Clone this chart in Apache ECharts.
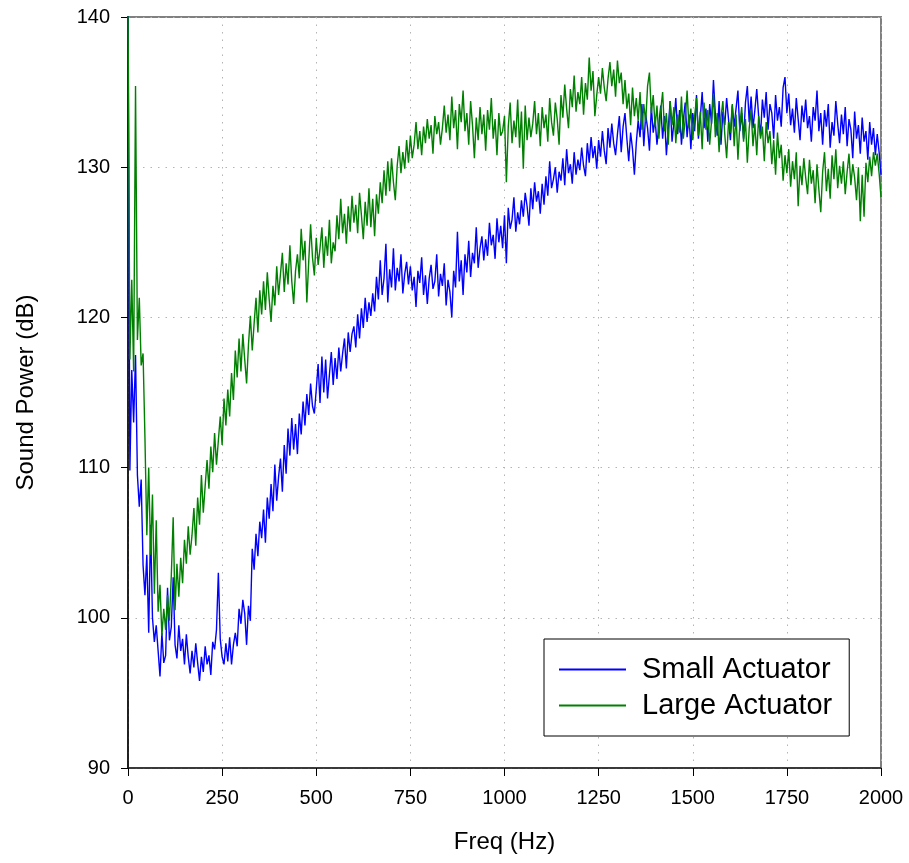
<!DOCTYPE html>
<html>
<head>
<meta charset="utf-8">
<script src="https://cdn.jsdelivr.net/npm/echarts@6/dist/echarts.min.js"></script>
<style>html,body{margin:0;padding:0;background:#fff;}#c{width:909px;height:863px;}</style>
</head>
<body>
<div id="c"></div>
<script>
// Frequency sampling (Hz): start and step of the sampled spectra
const FREQ_START = 0;
const FREQ_STEP = 5;
const X_TICKS = [0, 250, 500, 750, 1000, 1250, 1500, 1750, 2000];
const Y_TICKS = [90, 100, 110, 120, 130, 140];
const seriesNames = ["Small Actuator", "Large Actuator"];

// Sound power (dB), one row per 50 Hz
const smallActuator = [
141,109.8,116.5,113.0,117.5,109.5,107.4,109.2,103.5,101.5,
104.2,99.0,106.2,100.0,98.4,99.5,97.8,96.1,99.0,97.0,
97.5,102.0,98.5,99.4,102.7,98.2,97.3,99.5,97.8,98.6,
96.9,98.9,97.4,96.3,97.8,96.7,98.3,97.0,95.8,97.4,
96.4,98.1,96.9,97.5,96.2,98.4,97.9,99.2,103.0,98.6,
97.4,96.9,98.3,97.1,98.7,96.9,98.2,99.0,98.1,100.6,
99.6,101.2,100.3,98.2,100.8,99.8,104.6,103.2,105.6,104.1,
106.4,105.3,107.2,105.0,108.0,106.6,108.9,107.1,110.2,107.8,
109.4,110.6,108.4,111.5,109.6,112.6,110.8,113.3,111.2,112.9,
110.9,113.6,112.2,114.4,112.8,114.9,113.5,115.6,114.1,113.6,
115.2,116.9,114.3,117.4,115.0,117.2,114.6,116.2,117.7,115.5,
117.3,115.9,118.0,116.4,117.6,118.6,116.6,119.0,117.7,118.9,
119.4,118.0,120.2,118.6,120.6,119.3,121.3,119.7,121.0,120.1,
121.6,120.4,122.7,121.2,123.8,121.5,122.6,124.9,121.0,123.2,
122.0,124.6,121.8,123.3,122.4,124.2,121.6,122.9,123.7,122.2,
123.4,121.8,122.7,120.7,123.1,122.3,124.0,121.5,122.8,120.9,
122.6,123.5,121.9,122.4,124.2,121.4,122.9,122.1,123.6,120.8,
122.5,121.7,120.0,123.1,122.0,125.7,122.4,123.8,121.5,124.2,
123.0,125.1,122.7,124.3,123.6,126.0,123.3,124.6,125.4,123.8,
125.2,124.1,126.3,124.8,125.5,123.9,126.6,125.0,126.1,124.6,
126.8,123.6,127.3,125.9,126.5,128.0,125.7,127.0,126.2,127.8,
126.7,128.3,127.4,126.1,128.6,127.2,129.0,127.7,128.4,126.9,
128.9,127.5,129.4,128.1,130.4,128.6,129.2,130.0,128.3,129.7,
129.1,130.6,128.8,131.2,129.6,130.2,128.9,131.0,129.5,130.5,
129.8,131.3,130.1,129.4,131.6,130.3,132.0,130.6,131.4,129.9,
131.8,130.7,132.4,131.1,130.2,132.6,131.3,132.9,131.6,130.8,
132.2,133.4,131.0,132.7,133.6,131.9,130.4,132.3,131.2,129.5,
131.6,133.1,132.0,134.2,131.4,133.5,132.6,131.1,134.0,132.3,
133.2,131.5,132.8,134.1,131.9,133.4,130.8,132.6,134.4,131.7,
133.0,134.6,132.2,133.8,131.5,133.1,134.3,132.0,133.5,131.2,
133.6,132.4,134.8,131.9,133.3,135.0,132.6,133.9,131.7,134.2,
132.9,135.8,133.5,132.1,134.4,131.5,133.7,132.8,134.6,133.2,
131.8,134.1,132.7,133.9,135.1,132.4,133.6,131.9,134.3,135.4,
133.0,134.7,132.6,133.8,135.2,133.4,132.1,134.5,133.3,135.0,
132.5,134.2,133.6,131.9,134.8,133.1,134.0,132.7,135.3,136.0,
133.6,134.9,132.8,133.9,132.3,134.6,133.2,131.8,134.1,133.0,
134.5,132.6,133.4,131.7,134.0,133.1,135.1,132.4,133.6,131.5,
133.8,132.7,134.2,131.3,133.0,132.1,134.4,132.9,131.6,133.5,
132.2,134.0,131.4,133.2,132.5,130.6,133.7,131.9,132.8,130.9,
133.3,131.7,132.4,130.5,133.0,131.5,132.6,130.8,132.2,131.0,
129.5
];

const largeActuator = [
141,117.2,122.5,116.4,135.4,118.5,121.3,116.8,117.6,112.0,
105.5,110.0,104.2,108.2,101.6,106.5,100.4,102.2,98.8,100.6,
99.2,101.5,99.8,102.8,106.7,100.5,103.6,101.4,104.0,102.3,
105.2,103.6,106.1,104.2,105.5,107.3,104.8,108.0,106.2,109.5,
107.0,108.8,110.5,108.6,111.4,109.7,112.3,110.2,111.8,113.4,
111.5,114.6,112.8,115.2,113.4,116.3,114.5,117.8,116.0,118.6,
116.4,118.9,117.2,115.6,118.2,120.1,117.8,119.6,121.3,119.0,
121.8,120.2,122.4,120.5,123.0,121.2,119.7,122.1,120.8,123.4,
121.5,122.9,124.3,121.7,123.6,122.2,124.8,122.4,120.9,123.1,
124.2,122.6,125.9,123.8,125.1,121.0,123.7,126.2,124.0,122.8,
125.3,123.5,124.6,126.0,123.3,125.4,124.1,126.5,123.6,125.0,
124.4,126.8,125.2,127.9,125.6,126.9,124.9,127.4,125.7,128.1,
126.3,127.5,125.6,128.3,126.8,125.2,127.7,126.1,128.6,126.0,
127.9,125.4,128.2,126.9,129.0,127.6,129.8,128.1,130.4,128.4,
130.6,129.0,127.8,130.1,131.4,129.6,131.0,129.9,131.8,130.3,
132.1,130.6,131.5,133.0,131.2,132.4,130.8,132.7,131.6,133.2,
131.9,132.8,130.9,133.4,132.2,133.0,131.5,132.6,134.1,132.3,
133.5,131.8,134.7,132.6,133.8,131.2,134.2,133.0,135.1,132.4,
133.6,131.5,134.4,132.8,130.6,133.3,131.8,134.0,132.2,133.5,
131.1,133.8,132.5,134.6,131.9,133.2,130.8,133.6,132.1,132.4,
133.4,129.0,132.7,134.3,131.6,133.1,132.0,134.5,131.3,133.7,
129.9,134.1,131.8,133.3,132.0,132.9,134.4,132.2,133.6,131.4,
134.0,132.6,133.5,131.7,134.6,133.0,132.1,134.3,133.2,131.5,
134.8,133.3,135.5,133.9,132.6,135.2,134.0,136.1,133.7,135.0,
134.2,136.0,133.5,135.6,134.5,137.3,135.1,136.4,133.4,134.8,
136.0,134.9,136.6,135.3,134.4,135.9,137.0,135.4,136.5,134.7,
137.1,135.6,136.3,134.2,135.8,133.9,134.9,132.8,135.3,133.4,
134.6,133.1,135.0,132.5,134.2,133.0,135.4,136.3,133.6,134.8,
132.7,134.1,131.9,133.8,135.0,132.4,133.6,131.5,134.4,132.8,
134.0,131.6,133.5,132.3,134.7,131.9,133.2,135.1,132.6,133.9,
131.8,133.4,134.6,132.1,133.7,131.2,134.3,132.5,133.8,131.5,
133.1,134.9,132.0,133.6,131.0,133.3,134.4,132.2,130.6,133.0,
132.3,134.2,131.4,133.5,130.5,132.8,134.0,131.7,133.2,130.3,
132.6,133.8,131.4,132.9,130.8,133.4,131.9,132.7,130.4,133.0,
131.6,132.4,130.2,131.8,129.5,132.3,130.6,131.5,129.1,130.8,
129.6,131.2,128.7,130.4,129.2,131.0,127.4,130.1,128.8,130.6,
129.3,128.2,130.5,128.9,129.8,127.6,130.2,128.5,127.0,129.7,
131.0,128.4,129.9,127.9,130.8,129.2,131.2,128.6,130.1,128.9,
130.4,128.2,129.7,130.9,128.8,130.2,129.3,127.8,130.0,126.4,
129.5,126.7,130.3,129.0,130.7,129.4,131.0,130.1,130.9,129.6,
128.0
];

function pairs(vals) {
  return vals.map((v, i) => [FREQ_START + i * FREQ_STEP, v]);
}

const FONT = "Liberation Sans, Arial, sans-serif";
const chart = echarts.init(document.getElementById('c'), null, {renderer: 'canvas'});
chart.setOption({
  animation: false,
  backgroundColor: '#fff',
  grid: {left: 128, right: 28, top: 17, bottom: 95, show: true, borderColor: '#808080', borderWidth: 2, backgroundColor: 'transparent'},
  legend: {
    data: seriesNames,
    orient: 'vertical',
    left: 544, top: 639,
    padding: [16, 17, 16, 15],
    itemGap: 7,
    itemWidth: 67, itemHeight: 2,
    icon: 'rect',
    borderColor: '#000', borderWidth: 1,
    backgroundColor: '#fff',
    textStyle: {fontFamily: FONT, fontSize: 29, color: '#000', padding: [0, 0, 0, 11]}
  },
  xAxis: {
    type: 'value', min: X_TICKS[0], max: X_TICKS[X_TICKS.length - 1], interval: 250,
    name: 'Freq (Hz)', nameLocation: 'middle', nameGap: 62,
    nameTextStyle: {fontFamily: FONT, fontSize: 24, color: '#000'},
    axisLine: {show: true, onZero: false, lineStyle: {color: '#222', width: 1.5}},
    axisTick: {show: true, inside: false, length: 8, lineStyle: {color: '#000'}},
    axisLabel: {margin: 20, fontFamily: FONT, fontSize: 20, color: '#000', formatter: v => String(v)},
    splitLine: {show: true, lineStyle: {color: '#b4b4b4', type: [1.5, 6], width: 1}}
  },
  yAxis: {
    type: 'value', min: Y_TICKS[0], max: Y_TICKS[Y_TICKS.length - 1], interval: 10,
    name: 'Sound Power (dB)', nameLocation: 'middle', nameGap: 90,
    nameTextStyle: {fontFamily: FONT, fontSize: 24, color: '#000'},
    axisLine: {show: true, onZero: false, lineStyle: {color: '#000', width: 1.5}},
    axisTick: {show: true, inside: false, length: 7, lineStyle: {color: '#000'}},
    axisLabel: {margin: 18, fontFamily: FONT, fontSize: 20, color: '#000'},
    splitLine: {show: true, lineStyle: {color: '#b4b4b4', type: [1.5, 6], width: 1}}
  },
  series: [
    {name: seriesNames[0], type: 'line', data: pairs(smallActuator), showSymbol: false, symbol: 'none', clip: true,
     lineStyle: {color: '#0000ff', width: 1.4}, itemStyle: {color: '#0000ff'}},
    {name: seriesNames[1], type: 'line', data: pairs(largeActuator), showSymbol: false, symbol: 'none', clip: true,
     lineStyle: {color: '#008000', width: 1.4}, itemStyle: {color: '#008000'}}
  ]
});
</script>
</body>
</html>
